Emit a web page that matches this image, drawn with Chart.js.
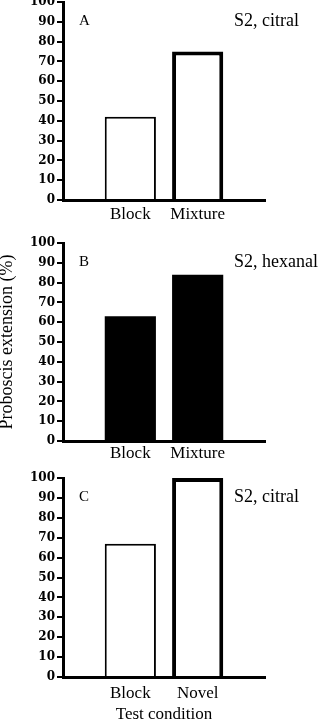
<!DOCTYPE html>
<html>
<head>
<meta charset="utf-8">
<script src="https://cdn.jsdelivr.net/npm/chart.js@4.4.0/dist/chart.umd.min.js"></script>
<style>
  html, body { margin: 0; padding: 0; background: #fff; }
  body { width: 318px; height: 720px; position: relative; overflow: hidden; }
  canvas { position: absolute; left: 0; }
</style>
</head>
<body>
<canvas id="chartA" width="318" height="230" style="top:0px"></canvas>
<canvas id="chartB" width="318" height="240" style="top:230px"></canvas>
<canvas id="chartC" width="318" height="250" style="top:470px"></canvas>
<script>
// valores
const conditionsAB = ['Block', 'Mixture'];
const conditionsC = ['Block', 'Novel'];
const extensionA = [42, 75];
const extensionB = [63, 84];
const extensionC = [67, 100];
const yTicks = [0, 10, 20, 30, 40, 50, 60, 70, 80, 90, 100];
const panelLetters = ['A', 'B', 'C'];
const panelOdors = ['S2, citral', 'S2, hexanal', 'S2, citral'];

// texto "A", "S2, citral" etc. dentro de cada painel
const panelText = {
    id: 'panelText',
    afterDraw(chart, args, opts) {
        const ctx = chart.ctx;
        const area = chart.chartArea;
        ctx.save();
        ctx.fillStyle = '#000';
        ctx.textBaseline = 'middle';
        ctx.font = '15px "Liberation Serif"';
        ctx.fillText(opts.letter, area.left + 16, area.top + 19);
        ctx.font = '18px "Liberation Serif"';
        ctx.fillText(opts.odor, 234, area.top + 19);
        ctx.restore();
    }
};

function makePanel(id, i, cats, values, opt) {
    const labels = [''].concat(cats, ['']);
    const data = [null].concat(values, [null]);
    const fill = opt.dark ? '#000' : '#fff';
    new Chart(document.getElementById(id), {
        type: 'bar',
        data: {
            labels: labels,
            datasets: [{
                data: data,
                backgroundColor: fill,
                borderColor: '#000',
                borderWidth: opt.dark ? 0 : [0, 2, 4, 0],
                barPercentage: 0.76,
                categoryPercentage: 1
            }]
        },
        plugins: [panelText],
        options: {
            responsive: false,
            animation: false,
            layout: { padding: { top: opt.top, right: 53, bottom: 0, left: 0 } },
            plugins: {
                legend: { display: false },
                tooltip: { enabled: false },
                panelText: { letter: panelLetters[i], odor: panelOdors[i] }
            },
            scales: {
                x: {
                    type: 'category',
                    offset: false,
                    grid: { display: false, drawTicks: false },
                    border: { display: true, color: '#000', width: 3 },
                    ticks: {
                        color: '#000',
                        font: { family: 'Liberation Serif', size: 17 },
                        padding: opt.tickPad,
                        autoSkip: false,
                        maxRotation: 0
                    },
                    title: {
                        display: !!opt.xTitle,
                        text: opt.xTitle || '',
                        color: '#000',
                        font: { family: 'Liberation Serif', size: 17, lineHeight: 0.7 },
                        padding: 0
                    },
                    afterFit(scale) {
                        scale.height = opt.xHeight;
                        scale.paddingLeft = 0;
                        scale.paddingRight = 0;
                    }
                },
                y: {
                    min: 0,
                    max: 100,
                    afterBuildTicks(scale) {
                        scale.ticks = yTicks.map(v => ({ value: v }));
                    },
                    grid: {
                        drawOnChartArea: false,
                        drawTicks: true,
                        tickLength: 6,
                        color: '#000',
                        lineWidth: 2
                    },
                    border: { display: true, color: '#000', width: 3 },
                    ticks: {
                        color: '#000',
                        font: { family: 'DejaVu Serif', size: 12, weight: 'bold' },
                        padding: 2
                    },
                    title: {
                        display: !!opt.yTitle,
                        text: opt.yTitle || '',
                        color: '#000',
                        font: { family: 'Liberation Serif', size: 18, lineHeight: 0.8 },
                        padding: 0
                    },
                    afterFit(scale) {
                        scale.width = 63;
                        scale.paddingTop = 0;
                        scale.paddingBottom = 0;
                    }
                }
            }
        }
    });
}

makePanel('chartA', 0, conditionsAB, extensionA, { top: 2, xHeight: 30, tickPad: 4 });
makePanel('chartB', 1, conditionsAB, extensionB, { top: 13, xHeight: 29, tickPad: 2, dark: true,
    yTitle: 'Proboscis extension (%)' });
makePanel('chartC', 2, conditionsC, extensionC, { top: 8, xHeight: 43, tickPad: 6,
    xTitle: 'Test condition' });
</script>
</body>
</html>
